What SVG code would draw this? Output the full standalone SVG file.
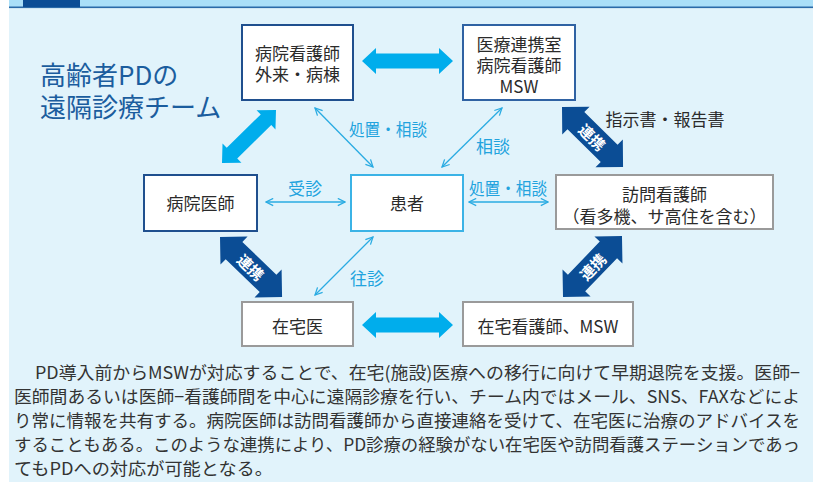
<svg xmlns="http://www.w3.org/2000/svg" width="813" height="486" viewBox="0 0 813 486">
<defs>
<style>
text{font-family:"Noto Sans CJK JP","Noto Sans",sans-serif}
.box{fill:#ffffff;stroke-width:2}
.bd{stroke:#1f4f8e}
.bm{stroke:#2f62a3}
.bl{stroke:#3bb3e6}
.bg{stroke:#9a9a9a}
.nt{font-size:17px;fill:#2b2b2b;text-anchor:middle;dominant-baseline:central}
.lb{font-size:17px;fill:#22a3de;text-anchor:middle;dominant-baseline:central}
.thin{stroke:#29abe2;stroke-width:1.3;fill:none;marker-start:url(#ah);marker-end:url(#ah)}
.big{fill:#00adec}
.dk{fill:#0b4d95}
.rk{font-size:15px;font-weight:bold;fill:#ffffff;text-anchor:middle;dominant-baseline:central}
.para{font-size:17.5px;fill:#333333}
</style>
<marker id="ah" viewBox="0 0 10 10" refX="9" refY="5" markerWidth="9" markerHeight="9" markerUnits="userSpaceOnUse" orient="auto-start-reverse">
<path d="M1,1 L9,5 L1,9" fill="none" stroke="#29abe2" stroke-width="1.4"/>
</marker>
</defs>

<!-- background -->
<rect x="9" y="0" width="804" height="482" fill="#e1f3fb"/>
<rect x="9" y="0" width="804" height="7" fill="#aadff8"/>
<rect x="9" y="6.5" width="804" height="1.6" fill="#2a6aa8"/>
<rect x="23" y="0" width="57" height="7" fill="#0b4d95"/>

<!-- title -->
<g id="title">
<text x="40" y="85" font-size="26" fill="#1b5d9e">高齢者PDの</text>
<text x="40" y="117" font-size="26" fill="#1b5d9e">遠隔診療チーム</text>
</g>

<!-- connectors -->
<g id="connectors">
<path class="big" transform="translate(362,61)" d="M0,0 L14,-13 L14,-7.5 L77,-7.5 L77,-13 L91,0 L77,13 L77,7.5 L14,7.5 L14,13 Z"/>
<path class="big" transform="translate(362,325)" d="M0,0 L14,-13 L14,-7.5 L77,-7.5 L77,-13 L91,0 L77,13 L77,7.5 L14,7.5 L14,13 Z"/>
<path class="big" transform="translate(222,163) rotate(-44.5)" d="M0,0 L14,-13.5 L14,-7.5 L61.7,-7.5 L61.7,-13.5 L75.7,0 L61.7,13.5 L61.7,7.5 L14,7.5 L14,13.5 Z"/>

<g transform="translate(562,107) rotate(44.5)">
<path class="dk" d="M0,0 L19.5,-19.5 L19.5,-12 L66.1,-12 L66.1,-19.5 L85.6,0 L66.1,19.5 L66.1,12 L19.5,12 L19.5,19.5 Z"/>
<text class="rk" x="42.8" y="0">連携</text>
</g>
<g transform="translate(220,237) rotate(44)">
<path class="dk" d="M0,0 L19.5,-19.5 L19.5,-12 L66.8,-12 L66.8,-19.5 L86.3,0 L66.8,19.5 L66.8,12 L19.5,12 L19.5,19.5 Z"/>
<text class="rk" x="43.1" y="0">連携</text>
</g>
<g transform="translate(563,297) rotate(-46)">
<path class="dk" d="M0,0 L19.5,-19.5 L19.5,-12 L65.4,-12 L65.4,-19.5 L84.9,0 L65.4,19.5 L65.4,12 L19.5,12 L19.5,19.5 Z"/>
<text class="rk" x="42.4" y="0">連携</text>
</g>

<line class="thin" x1="315" y1="108" x2="373" y2="167"/>
<line class="thin" x1="502" y1="108" x2="442" y2="167"/>
<line class="thin" x1="266" y1="202" x2="345" y2="202"/>
<line class="thin" x1="469" y1="202" x2="548" y2="202"/>
<line class="thin" x1="315" y1="295" x2="373" y2="237"/>

<text class="lb" x="388" y="128" textLength="78" lengthAdjust="spacingAndGlyphs">処置・相談</text>
<text class="lb" x="493" y="145">相談</text>
<text class="lb" x="305" y="187">受診</text>
<text class="lb" x="508" y="187" textLength="78" lengthAdjust="spacingAndGlyphs">処置・相談</text>
<text class="lb" x="367" y="277">往診</text>
<text class="nt" x="665" y="118">指示書・報告書</text>
</g>

<!-- nodes -->
<g id="n-ward-nurse">
<rect class="box bd" x="242" y="25" width="111" height="75"/>
<text class="nt"><tspan x="297.5" y="52">病院看護師</tspan><tspan x="297.5" y="73">外来・病棟</tspan></text>
</g>
<g id="n-liaison">
<rect class="box bm" x="463" y="25" width="112" height="75"/>
<text class="nt"><tspan x="519" y="43">医療連携室</tspan><tspan x="519" y="64">病院看護師</tspan><tspan x="519" y="85">MSW</tspan></text>
</g>
<g id="n-hospital-doctor">
<rect class="box bd" x="144" y="175" width="113" height="56"/>
<text class="nt" x="200.5" y="202">病院医師</text>
</g>
<g id="n-patient">
<rect class="box bl" x="351" y="175" width="112" height="56"/>
<text class="nt" x="407" y="202">患者</text>
</g>
<g id="n-visit-nurse">
<rect class="box bg" x="556" y="175" width="217" height="54"/>
<text class="nt"><tspan x="664.5" y="193">訪問看護師</tspan><tspan x="664.5" y="215">（看多機、サ高住を含む）</tspan></text>
</g>
<g id="n-home-doctor">
<rect class="box bg" x="242" y="302" width="111" height="44"/>
<text class="nt" x="297.5" y="325">在宅医</text>
</g>
<g id="n-home-nurse">
<rect class="box bg" x="463" y="302" width="170" height="44"/>
<text class="nt" x="548" y="325">在宅看護師、MSW</text>
</g>

<!-- paragraph -->
<g id="paragraph">
<text class="para" x="35" y="379" textLength="765" lengthAdjust="spacingAndGlyphs">PD導入前からMSWが対応することで、在宅(施設)医療への移行に向けて早期退院を支援。医師−</text>
<text class="para" x="14" y="403" textLength="786" lengthAdjust="spacingAndGlyphs">医師間あるいは医師−看護師間を中心に遠隔診療を行い、チーム内ではメール、SNS、FAXなどによ</text>
<text class="para" x="14" y="427" textLength="786" lengthAdjust="spacingAndGlyphs">り常に情報を共有する。病院医師は訪問看護師から直接連絡を受けて、在宅医に治療のアドバイスを</text>
<text class="para" x="14" y="451" textLength="786" lengthAdjust="spacingAndGlyphs">することもある。このような連携により、PD診療の経験がない在宅医や訪問看護ステーションであっ</text>
<text class="para" x="14" y="475" textLength="259" lengthAdjust="spacingAndGlyphs">てもPDへの対応が可能となる。</text>
</g>
</svg>
